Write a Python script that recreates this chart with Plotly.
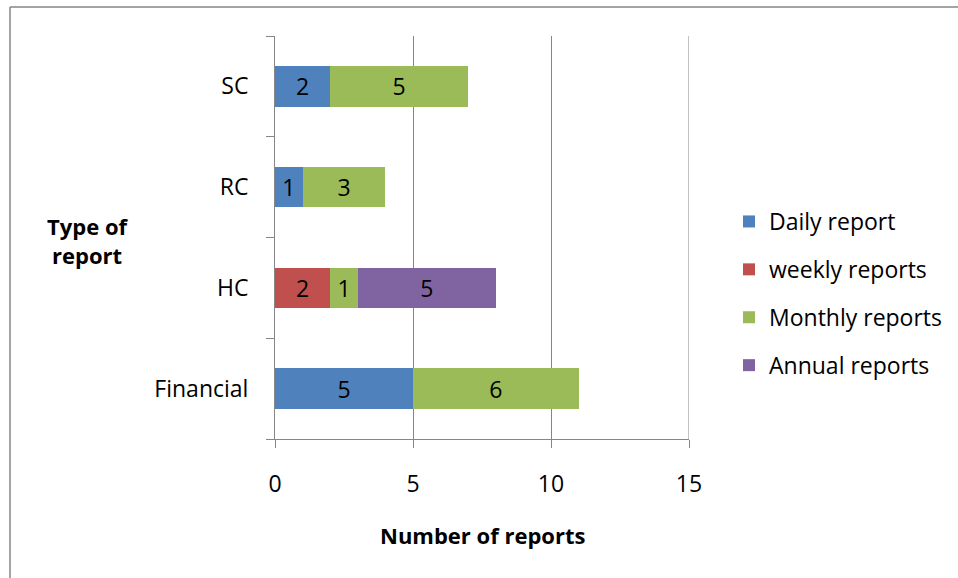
import plotly.graph_objects as go

categories = ["Financial", "HC", "RC", "SC"]
series_names = ["Daily report", "weekly reports", "Monthly reports", "Annual reports"]
daily = [5, None, 1, 2]
weekly = [None, 2, None, None]
monthly = [6, 1, 3, 5]
annual = [None, 5, None, None]
x_ticks = [0, 5, 10, 15]

colors = ["#4F81BD", "#C0504D", "#9BBB59", "#8064A2"]
FONT = "Open Sans"
FS = 23
FT = 22
W, H = 958, 578
ML, MR, MT, MB = 275, 269, 36, 139
pw, ph = W - ML - MR, H - MT - MB

fig = go.Figure()
for name, vals, col in zip(series_names, [daily, weekly, monthly, annual], colors):
    fig.add_trace(go.Bar(
        y=categories, x=vals, name=name, orientation="h",
        marker=dict(color=col, line=dict(width=0)),
        text=vals, texttemplate="%{x}", textposition="inside",
        insidetextanchor="middle", constraintext="none",
        textfont=dict(color="black", size=FS, family=FONT),
        legendgroup=name,
    ))

def px_x(p):
    return (p - ML) / pw

def px_y(p):
    return (H - MB - p) / ph

fig.update_layout(
    width=W, height=H,
    margin=dict(l=ML, r=MR, t=MT, b=MB, autoexpand=False),
    barmode="stack", bargap=0.6,
    paper_bgcolor="white", plot_bgcolor="white",
    font=dict(family=FONT, size=FS, color="black"),
    showlegend=True,
    legend=dict(x=px_x(729), y=px_y(200), xanchor="left", yanchor="top",
                font=dict(size=FS, family=FONT), tracegroupgap=15,
                itemwidth=30, bgcolor="rgba(0,0,0,0)"),
    xaxis=dict(range=[0, 15], tickvals=x_ticks, showgrid=True, gridcolor="#868686",
               gridwidth=1, showline=True, linecolor="#868686", linewidth=1,
               ticks="outside", ticklen=8, tickcolor="#868686", zeroline=False,
               ticklabelstandoff=16, tickfont=dict(size=FS)),
    yaxis=dict(type="category", categoryorder="array", categoryarray=categories,
               showline=True, linecolor="#868686", linewidth=1, ticks="outside",
               tickson="boundaries", ticklen=8, tickcolor="#868686", showgrid=False,
               ticklabelstandoff=21, tickfont=dict(size=FS)),
    annotations=[
        dict(text="<b>Type of<br>report</b>", x=px_x(88), y=px_y(240), xref="paper", yref="paper",
             showarrow=False, font=dict(size=FT, family=FONT), xanchor="center", yanchor="middle",
             align="center"),
        dict(text="<b>Number of reports</b>", x=px_x(482), y=px_y(535), xref="paper", yref="paper",
             showarrow=False, font=dict(size=FT, family=FONT), xanchor="center", yanchor="middle"),
    ],
    shapes=[
        dict(type="line", xref="x", yref="paper", x0=15, x1=15, y0=0, y1=1,
             line=dict(color="#868686", width=1), layer="below"),
        dict(type="line", xref="paper", yref="paper", x0=px_x(10), x1=px_x(W + 5),
             y0=px_y(7), y1=px_y(7), line=dict(color="#868686", width=1.5)),
        dict(type="line", xref="paper", yref="paper", x0=px_x(10), x1=px_x(10),
             y0=px_y(7), y1=px_y(H + 5), line=dict(color="#868686", width=1.5)),
    ],
)

fig.write_html("out.html")
